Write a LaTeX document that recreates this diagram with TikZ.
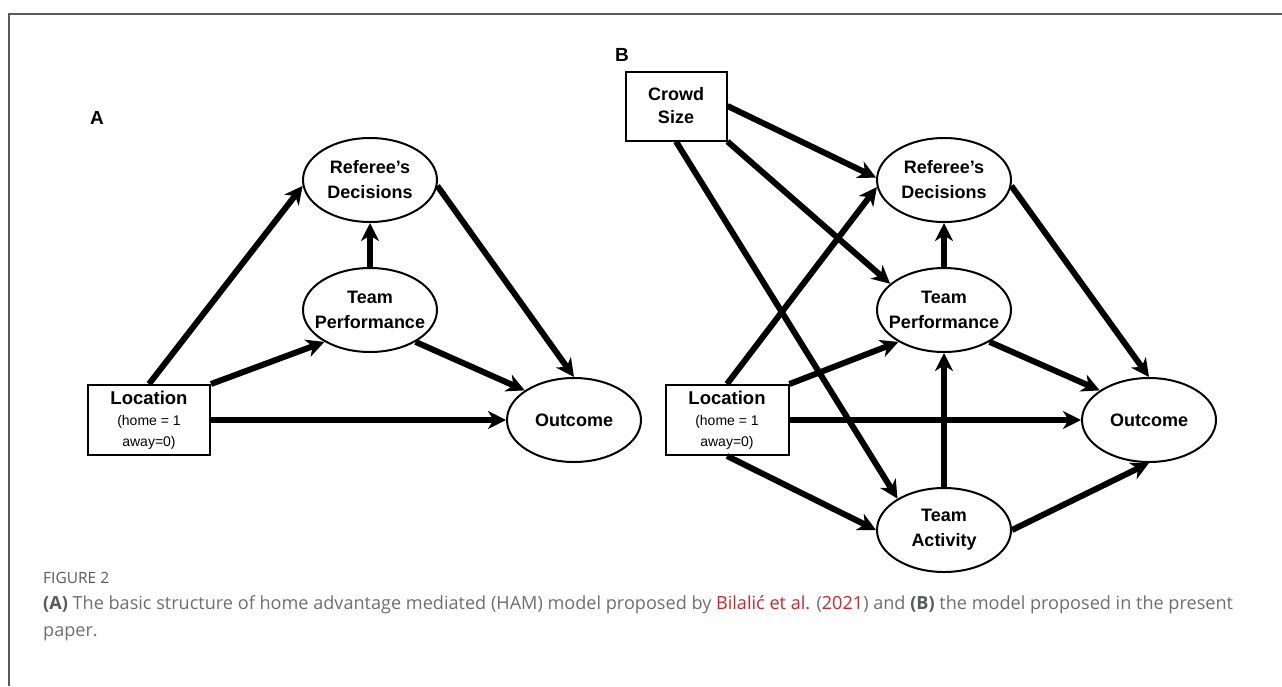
\documentclass[tikz,border=0pt]{standalone}
\usepackage{fontspec}
\setmainfont{Liberation Sans}
\newfontfamily\capfont{Open Sans}
\usetikzlibrary{
    arrows.meta,
    shapes.geometric,
    positioning
}
\definecolor{capgray}{HTML}{6D6E71}
\definecolor{capdark}{HTML}{58595B}
\definecolor{citered}{HTML}{D2232A}
\definecolor{framegray}{HTML}{5A5A5A}

\begin{document}
\begin{tikzpicture}[x=1pt, y=-1pt,
    var/.style={ellipse, draw, line width=2pt, minimum width=134pt, minimum height=84pt,
        inner xsep=-16pt, inner ysep=0pt, align=center, font=\fontsize{18}{25}\selectfont\bfseries},
    obs/.style={rectangle, draw, line width=2pt, inner sep=0pt, align=center,
        font=\fontsize{18}{23}\selectfont\bfseries},
    link/.style={-{Stealth[length=18pt, width=18pt, inset=5.5pt]}, line width=6pt},
    panel/.style={font=\fontsize{19}{19}\selectfont\bfseries}]
                        \useasboundingbox (0,0) rectangle (1282,686);
                        \draw[framegray, line width=1.5pt] (9,686) -- (9,14) -- (1282,14);
                        % panel A
                        \node[panel] (pa) at (97,118) {A};
                        \node[var] (refa) at (370,180) {Referee’s\\Decisions};
                        \node[var] (tpa) at (370,310) {Team\\Performance};
                        \node[var] (outa) at (574,420) {Outcome};
                        \node[obs, minimum width=122pt, minimum height=70pt, font=\fontsize{14}{21}\selectfont]
                            (loca) at (149,420) {{\fontsize{18.5}{21}\selectfont\bfseries Location}\\(home = 1\\away=0)};
                        \draw
                        (loca.north) edge[link] (refa.185)
                        (loca.north east) edge[link] (tpa.215)
                        (loca.east) edge[link] (outa.west)
                        (tpa.north) edge[link] (refa.south)
                        (tpa.325) edge[link] (outa.149)
                        (refa.355) edge[link] (outa.north);
                        % panel B
                        \node[panel] (pb) at (622,55) {B};
                        \node[obs, minimum width=101pt, minimum height=69pt] (crowd) at (676,106) {Crowd\\Size};
                        \node[var] (refb) at (944,180) {Referee’s\\Decisions};
                        \node[var] (tpb) at (944,310) {Team\\Performance};
                        \node[var] (tab) at (944,530) {Team\\Activity};
                        \node[var] (outb) at (1149,420) {Outcome};
                        \node[obs, minimum width=123pt, minimum height=70pt, font=\fontsize{14}{21}\selectfont]
                            (locb) at (727,420) {{\fontsize{18.5}{21}\selectfont\bfseries Location}\\(home = 1\\away=0)};
                        \draw
                        (crowd.east) edge[link] (refb.178)
                        (crowd.south east) edge[link] (tpb.154)
                        (crowd.south) edge[link] (tab.146)
                        (locb.north) edge[link] (refb.186)
                        (locb.north east) edge[link] (tpb.215)
                        (locb.east) edge[link] (outb.west)
                        (locb.south) edge[link] (tab.west)
                        (tab.north) edge[link] (tpb.south)
                        (tpb.north) edge[link] (refb.south)
                        (tpb.325) edge[link] (outb.149)
                        (refb.355) edge[link] (outb.north)
                        (tab.east) edge[link] (outb.south);
                        % caption
                        \node[anchor=base west, font=\capfont\fontsize{15.5}{15.5}\selectfont, text=capdark, inner xsep=0pt]
                            (fig) at (43,583) {FIGURE 2};
                        \node[anchor=base west, font=\capfont\fontsize{18.1}{18.1}\selectfont, text=capgray, inner xsep=0pt]
                            (cap1) at (43,609) {{\bfseries\color{capdark}(A)} The basic structure of home advantage mediated (HAM) model proposed by \textcolor{citered}{Bilalić et al.} (\textcolor{citered}{2021}) and {\bfseries\color{capdark}(B)} the model proposed in the present};
                        \node[anchor=base west, font=\capfont\fontsize{18.1}{18.1}\selectfont, text=capgray, inner xsep=0pt]
                            (cap2) at (43,636) {paper.};
                    \end{tikzpicture}
\end{document}
